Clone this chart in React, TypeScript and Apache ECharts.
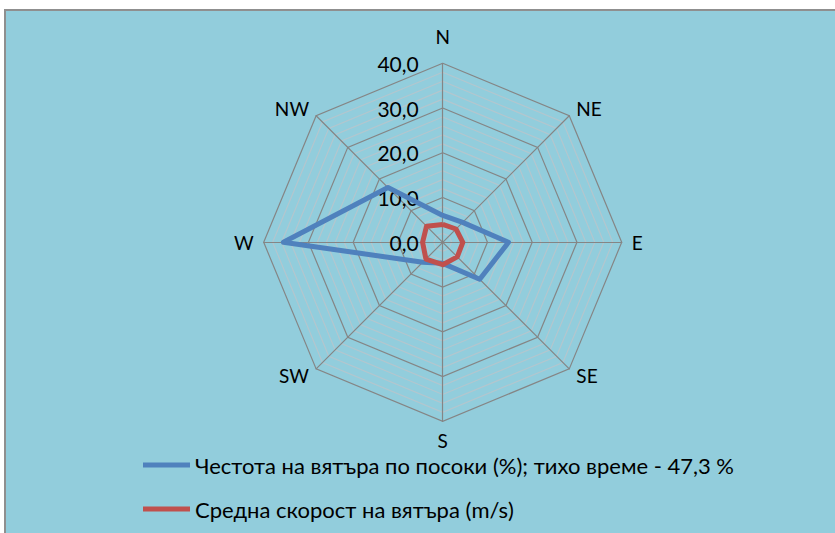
import React, { useEffect, useRef } from "react";
import * as echarts from "echarts";

// Compass directions, in clockwise order starting at North
const directions = ["N", "NE", "E", "SE", "S", "SW", "W", "NW"];
// Wind frequency by direction (%)
const frequency = [6.0, 6.3, 14.7, 11.7, 4.7, 6.3, 35.6, 17.3];
// Mean wind speed by direction (m/s)
const speed = [4.0, 4.2, 4.5, 4.6, 5.0, 5.3, 4.5, 5.1];
const axisMin = 0;
const axisMax = 40;
const minorStep = 2;
const majorStep = 10;

const seriesNames = [
  "Честота на вятъра по посоки (%); тихо време - 47,3 %",
  "Средна скорост на вятъра (m/s)",
];

const FONT = "Lato, 'Open Sans', sans-serif";

// ECharts radar lays indicators counter-clockwise; reorder so they read clockwise
const order = [0, 7, 6, 5, 4, 3, 2, 1];

export default function App() {
  const ref = useRef<HTMLDivElement>(null);
  useEffect(() => {
    if (!ref.current) return;
    const chart = echarts.init(ref.current, undefined, { renderer: "svg" });
    const splitNumber = (axisMax - axisMin) / minorStep;
    const perMajor = majorStep / minorStep;
    const ringColors: string[] = [];
    for (let i = 0; i < perMajor; i++) ringColors.push(i === 0 ? "#858585" : "#b3c6ce");
    const indicator = order.map((idx, k) => {
      const ind: any = { name: directions[idx], min: axisMin, max: axisMax };
      if (k === 0) ind.axisLabel = { show: true };
      return ind;
    });
    chart.setOption({
      animation: false,
      backgroundColor: "#ffffff",
      textStyle: { fontFamily: FONT },
      graphic: [
        {
          type: "rect",
          z: -10,
          shape: { x: 5, y: 10, width: 850, height: 560 },
          style: { fill: "#92CDDC", stroke: "#8f8f8f", lineWidth: 2 },
          silent: true,
        },
      ],
      legend: {
        orient: "vertical",
        left: 143,
        top: 454,
        padding: 0,
        itemWidth: 47,
        itemHeight: 5,
        itemGap: 22,
        icon: "rect",
        textStyle: { fontSize: 22, lineHeight: 20, color: "#000", fontFamily: FONT },
        data: seriesNames,
      },
      radar: {
        center: [442.7, 242.3],
        radius: 179,
        startAngle: 90,
        shape: "polygon",
        splitNumber,
        indicator,
        axisName: {
          color: "#000",
          fontSize: 19,
          fontFamily: FONT,
          formatter: (name: string) => (name === "N" ? "{n|N}" : name),
          rich: { n: { fontSize: 19, color: "#000", fontFamily: FONT, padding: [0, 0, 7, 0] } },
        },
        nameGap: 10,
        axisLine: { show: true, lineStyle: { color: "#858585", width: 1.2 } },
        splitLine: { show: true, lineStyle: { color: ringColors, width: 1.2 } },
        splitArea: { show: false },
        axisTick: { show: false },
        axisLabel: {
          show: false,
          color: "#000",
          fontSize: 21,
          fontFamily: FONT,
          margin: 24,
          formatter: (v: number) =>
            Math.abs(v % majorStep) < 1e-9 ? v.toFixed(1).replace(".", ",") : "",
        },
      },
      series: [
        {
          type: "radar",
          name: seriesNames[0],
          symbol: "none",
          color: "#4F81BD",
          lineStyle: { color: "#4F81BD", width: 5 },
          data: [{ name: seriesNames[0], value: order.map((i) => frequency[i]) }],
        },
        {
          type: "radar",
          name: seriesNames[1],
          symbol: "none",
          color: "#C0504D",
          lineStyle: { color: "#C0504D", width: 5 },
          data: [{ name: seriesNames[1], value: order.map((i) => speed[i]) }],
        },
      ],
    });
    return () => chart.dispose();
  }, []);
  return (
    <div
      ref={ref}
      style={{ position: "fixed", left: 0, top: 0, width: 835, height: 533 }}
    />
  );
}
